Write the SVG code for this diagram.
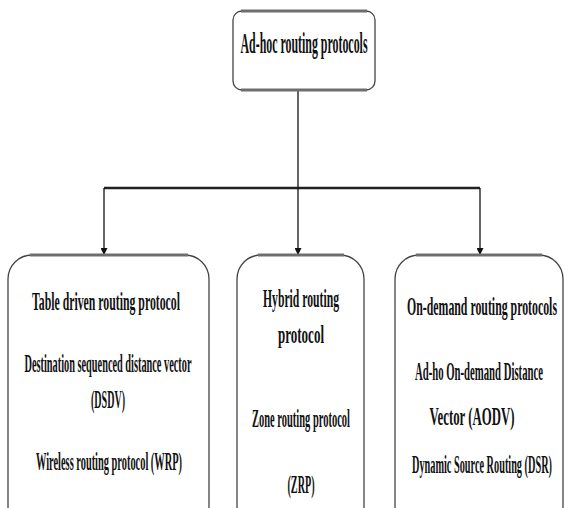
<svg xmlns="http://www.w3.org/2000/svg" width="565" height="508" viewBox="0 0 565 508">
<defs>
<style>
.box{fill:#fff;stroke:#444;stroke-width:1.3}
.topb{fill:none;stroke:#6e6e6e;stroke-width:3}
.t{font-family:"Liberation Serif","Times New Roman",serif;font-weight:bold;fill:#111;text-anchor:middle}
.s{font-size:25px}
.big{font-size:29px}
.ln{stroke:#111;stroke-width:1.3;fill:none}
.hl{stroke:#222;stroke-width:2.4;fill:none}
</style>
<marker id="ah" viewBox="0 0 10 10" refX="10" refY="5" markerWidth="10" markerHeight="7" markerUnits="userSpaceOnUse" orient="auto">
<path d="M0,0 L10,5 L0,10 z" fill="#111"/>
</marker>
</defs>
<rect width="565" height="508" fill="#fff"/>
<g id="connectors">
<line class="ln" x1="298" y1="90" x2="298" y2="188"/>
<line class="hl" x1="104" y1="188" x2="480" y2="188"/>
<line class="ln" x1="104" y1="188" x2="104" y2="255" marker-end="url(#ah)"/>
<line class="ln" x1="298" y1="188" x2="298" y2="255" marker-end="url(#ah)"/>
<line class="ln" x1="480" y1="188" x2="480" y2="255" marker-end="url(#ah)"/>
</g>
<g id="root">
<rect class="box" x="233" y="11" width="142" height="79" rx="9"/>
<path class="topb" d="M241,11 H367"/>
<path class="topb" d="M241,90 H367"/>
<text class="t big" transform="translate(304,53) scale(0.5,1)" textLength="254" lengthAdjust="spacingAndGlyphs">Ad-hoc routing protocols</text>
</g>
<g id="table-driven">
<rect class="box" x="8" y="255" width="201" height="275" rx="24"/>
<path class="topb" d="M30,255 H188"/>
<text class="t s" transform="translate(106,310) scale(0.5,1)" textLength="296" lengthAdjust="spacingAndGlyphs">Table driven routing protocol</text>
<text class="t s" transform="translate(108,372) scale(0.5,1)" textLength="334" lengthAdjust="spacingAndGlyphs">Destination sequenced distance vector</text>
<text class="t s" transform="translate(108,408) scale(0.5,1)" textLength="68" lengthAdjust="spacingAndGlyphs">(DSDV)</text>
<text class="t s" transform="translate(109,470) scale(0.5,1)" textLength="292" lengthAdjust="spacingAndGlyphs">Wireless routing protocol (WRP)</text>
</g>
<g id="hybrid">
<rect class="box" x="237" y="255" width="127" height="275" rx="24"/>
<path class="topb" d="M258,255 H344"/>
<text class="t s" transform="translate(301,307) scale(0.5,1)" textLength="152" lengthAdjust="spacingAndGlyphs">Hybrid routing</text>
<text class="t s" transform="translate(301,343) scale(0.5,1)" textLength="92" lengthAdjust="spacingAndGlyphs">protocol</text>
<text class="t s" transform="translate(301,427) scale(0.5,1)" textLength="196" lengthAdjust="spacingAndGlyphs">Zone routing protocol</text>
<text class="t s" transform="translate(301,493) scale(0.5,1)" textLength="54" lengthAdjust="spacingAndGlyphs">(ZRP)</text>
</g>
<g id="on-demand">
<rect class="box" x="395" y="255" width="168" height="275" rx="24"/>
<path class="topb" d="M416,255 H542"/>
<text class="t s" transform="translate(482,315) scale(0.5,1)" textLength="300" lengthAdjust="spacingAndGlyphs">On-demand routing protocols</text>
<text class="t s" transform="translate(479,380) scale(0.5,1)" textLength="256" lengthAdjust="spacingAndGlyphs">Ad-ho On-demand Distance</text>
<text class="t s" transform="translate(472,425) scale(0.5,1)" textLength="170" lengthAdjust="spacingAndGlyphs">Vector (AODV)</text>
<text class="t s" transform="translate(482,473) scale(0.45,1)" textLength="311" lengthAdjust="spacingAndGlyphs">Dynamic Source Routing (DSR)</text>
</g>
</svg>
